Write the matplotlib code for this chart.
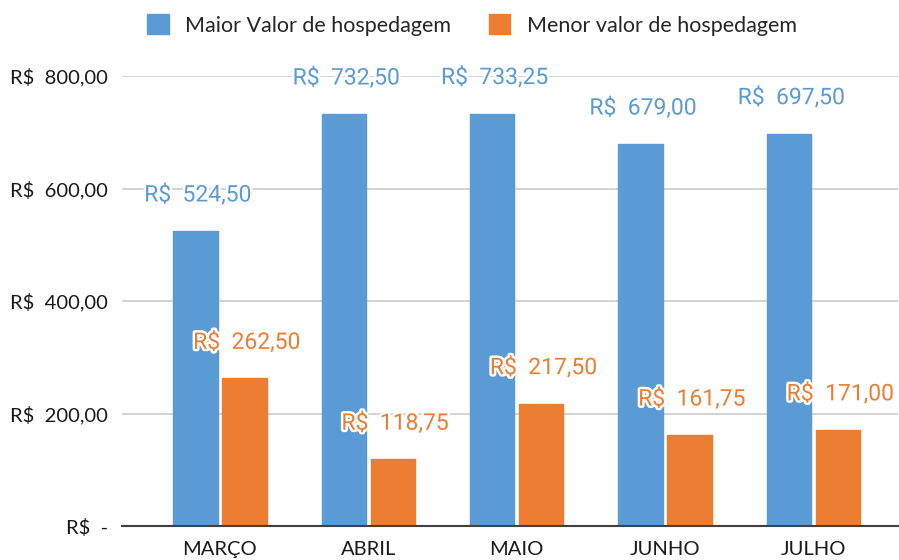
import numpy as np
import matplotlib.pyplot as plt
import matplotlib.patheffects as pe

meses = ["MARÇO", "ABRIL", "MAIO", "JUNHO", "JULHO"]
maior_valor = [524.50, 732.50, 733.25, 679.00, 697.50]
menor_valor = [262.50, 118.75, 217.50, 161.75, 171.00]
y_ticks = [0, 200, 400, 600, 800]
y_labels = ["R$  -", "R$  200,00", "R$  400,00", "R$  600,00", "R$  800,00"]

azul = "#5B9BD5"
laranja = "#ED7D31"

def brl(v):
    s = f"{v:,.2f}".replace(",", "X").replace(".", ",").replace("X", ".")
    return f"R$  {s}"

fig = plt.figure(figsize=(8.99, 5.6), dpi=100)
ax = fig.add_axes([122 / 899, 34 / 560, 776 / 899, 450 / 560])

x = np.arange(len(meses))
w = 0.298
off = 0.165

b1 = ax.bar(x - off, maior_valor, w, color=azul, edgecolor=azul, linewidth=1.0,
            joinstyle="round", label="Maior Valor de hospedagem", zorder=3)
b2 = ax.bar(x + off, menor_valor, w, color=laranja, edgecolor=laranja, linewidth=1.0,
            joinstyle="round", label="Menor valor de hospedagem", zorder=3)

halo = [pe.withStroke(linewidth=3.5, foreground="white")]
for xi, v in zip(x - off, maior_valor):
    ax.text(xi + 0.015, v + 64, brl(v), ha="center", va="center", color=azul,
            fontsize=16.5, family="Roboto", path_effects=halo, zorder=5, clip_on=False)
for xi, v in zip(x + off, menor_valor):
    ax.text(xi + 0.015, v + 64, brl(v), ha="center", va="center", color=laranja,
            fontsize=16.5, family="Roboto", path_effects=halo, zorder=5, clip_on=False)

ax.set_xlim(-0.66, 4.57)
ax.set_ylim(0, 800)
ax.set_yticks(y_ticks)
ax.set_yticklabels(y_labels)
ax.set_xticks(x)
ax.set_xticklabels(meses)
ax.tick_params(axis="both", length=0, labelsize=14.5, colors="#1a1a1a")
ax.tick_params(axis="y", pad=10)
ax.tick_params(axis="x", pad=11)
for lab in ax.get_xticklabels() + ax.get_yticklabels():
    lab.set_family("Lato")

ax.grid(axis="y", color="#d0d0d0", linewidth=1.3, zorder=0)
ax.set_axisbelow(True)
for s in ["top", "right", "left"]:
    ax.spines[s].set_visible(False)
ax.spines["bottom"].set_color("#404040")
ax.spines["bottom"].set_linewidth(1.5)
ax.spines["bottom"].set_zorder(4)

fig.legend(handles=[b1, b2], loc="center", bbox_to_anchor=(472 / 899, 1 - 25 / 560),
           ncol=2, frameon=False, prop={"family": "Lato", "size": 15.5},
           handlelength=1.0, handleheight=1.0, handletextpad=0.75, columnspacing=1.75,
           labelcolor="#262626")

fig.savefig("out.png", dpi=100)
